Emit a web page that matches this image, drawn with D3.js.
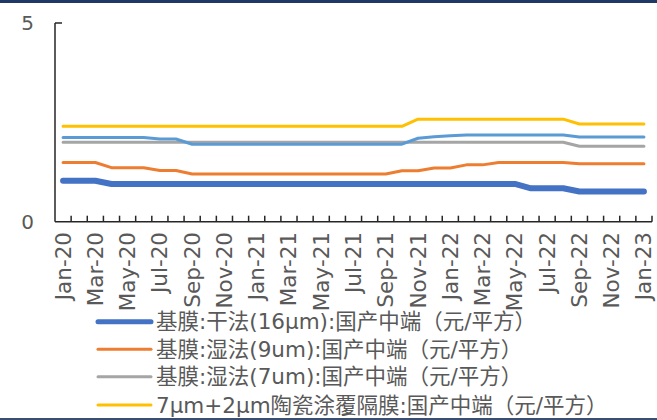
<!DOCTYPE html>
<html><head><meta charset="utf-8">
<script src="https://cdn.jsdelivr.net/npm/d3@7"></script>
<style>body{margin:0;background:#fff}svg{display:block}</style>
</head><body>
<script>
const months = ["Jan-20","Feb-20","Mar-20","Apr-20","May-20","Jun-20","Jul-20","Aug-20","Sep-20","Oct-20","Nov-20","Dec-20",
"Jan-21","Feb-21","Mar-21","Apr-21","May-21","Jun-21","Jul-21","Aug-21","Sep-21","Oct-21","Nov-21","Dec-21",
"Jan-22","Feb-22","Mar-22","Apr-22","May-22","Jun-22","Jul-22","Aug-22","Sep-22","Oct-22","Nov-22","Dec-22","Jan-23"];
const dry16 = [1.03,1.03,1.03,0.95,0.95,0.95,0.95,0.95,0.95,0.95,0.95,0.95,0.95,0.95,0.95,0.95,0.95,0.95,0.95,0.95,0.95,0.95,0.95,0.95,0.95,0.95,0.95,0.95,0.95,0.84,0.84,0.84,0.76,0.76,0.76,0.76,0.76];
const wet9 = [1.49,1.49,1.49,1.36,1.36,1.36,1.29,1.29,1.20,1.20,1.20,1.20,1.20,1.20,1.20,1.20,1.20,1.20,1.20,1.20,1.20,1.28,1.28,1.35,1.35,1.43,1.43,1.49,1.49,1.49,1.49,1.49,1.46,1.46,1.46,1.46,1.46];
const wet7 = [2.00,2.00,2.00,2.00,2.00,2.00,2.00,2.00,2.00,2.00,2.00,2.00,2.00,2.00,2.00,2.00,2.00,2.00,2.00,2.00,2.00,2.00,2.00,2.00,2.00,2.00,2.00,2.00,2.00,2.00,2.00,2.00,1.90,1.90,1.90,1.90,1.90];
const coated = [2.40,2.40,2.40,2.40,2.40,2.40,2.40,2.40,2.40,2.40,2.40,2.40,2.40,2.40,2.40,2.40,2.40,2.40,2.40,2.40,2.40,2.40,2.58,2.58,2.58,2.58,2.58,2.58,2.58,2.58,2.58,2.58,2.46,2.46,2.46,2.46,2.46];
const fifth = [2.12,2.12,2.12,2.12,2.12,2.12,2.08,2.08,1.95,1.95,1.95,1.95,1.95,1.95,1.95,1.95,1.95,1.95,1.95,1.95,1.95,1.95,2.10,2.14,2.16,2.18,2.18,2.18,2.18,2.18,2.18,2.18,2.13,2.13,2.13,2.13,2.13];
const seriesNames = ["基膜:干法(16μm):国产中端（元/平方）","基膜:湿法(9um):国产中端（元/平方）","基膜:湿法(7um):国产中端（元/平方）","7μm+2μm陶瓷涂覆隔膜:国产中端（元/平方）"];
const yTicks = [0,5];

const series = [
  {name: seriesNames[0], values: dry16, color: "#4472C4", width: 6, legend: true},
  {name: seriesNames[1], values: wet9, color: "#ED7D31", width: 3, legend: true},
  {name: seriesNames[2], values: wet7, color: "#A5A5A5", width: 3, legend: true},
  {name: seriesNames[3], values: coated, color: "#FFC000", width: 3, legend: true},
  {name: "", values: fifth, color: "#5B9BD5", width: 3, legend: false}
];

const W = 657, H = 420;
const svg = d3.select("body").append("svg").attr("width", W).attr("height", H);
const font = "'DejaVu Sans', 'Noto Sans CJK SC', sans-serif";
const textColor = "#595959";

svg.append("rect").attr("x",0).attr("y",0).attr("width",W).attr("height",3).attr("fill","#1F3864");
svg.append("rect").attr("x",0).attr("y",418).attr("width",W).attr("height",2).attr("fill","#3B4E72");

const x = d3.scaleBand().domain(months).range([55, 652]).padding(0);
const y = d3.scaleLinear().domain([0,5]).range([221.7, 23]);

// axes
svg.append("line").attr("x1",55).attr("x2",55).attr("y1",y(5)).attr("y2",y(0)).attr("stroke","#262626").attr("stroke-width",1.5);
svg.append("line").attr("x1",55).attr("x2",62).attr("y1",y(5)).attr("y2",y(5)).attr("stroke","#262626").attr("stroke-width",1.5);
svg.append("line").attr("x1",55).attr("x2",652).attr("y1",y(0)).attr("y2",y(0)).attr("stroke","#262626").attr("stroke-width",1.5);
const bounds = months.map(m => x(m)).concat([x(months[months.length-1]) + x.bandwidth()]);
svg.selectAll(".xt").data(bounds.slice(1)).enter().append("line")
  .attr("x1", d=>d).attr("x2", d=>d).attr("y1", y(0)).attr("y2", y(0)-6)
  .attr("stroke","#262626").attr("stroke-width",1.5);

svg.selectAll(".yl").data(yTicks).enter().append("text")
  .attr("x", 34).attr("y", d=>y(d)).attr("dy","0.35em").attr("text-anchor","end")
  .attr("font-family", font).attr("font-size", 20).attr("fill", textColor).text(d=>d);

svg.selectAll(".xl").data(months.filter((m,i)=>i%2===0)).enter().append("text")
  .attr("transform", d=>`translate(${x(d)+x.bandwidth()/2},232) rotate(-90)`)
  .attr("text-anchor","end").attr("dy","0.35em")
  .attr("font-family", font).attr("font-size", 21.5).attr("fill", textColor).text(d=>d);

const line = d3.line().x((d,i)=>x(months[i])+x.bandwidth()/2).y(d=>y(d)).curve(d3.curveLinear);
series.forEach(s=>{
  svg.append("path").attr("d", line(s.values)).attr("fill","none").attr("stroke", s.color)
    .attr("stroke-width", s.width).attr("stroke-linejoin","round").attr("stroke-linecap","round");
});

const legY = [321.7, 349.3, 376.7, 405];
series.filter(s=>s.legend).forEach((s,i)=>{
  svg.append("line").attr("x1",98).attr("x2",151).attr("y1",legY[i]).attr("y2",legY[i])
    .attr("stroke", s.color).attr("stroke-width", s.width===6?5:3).attr("stroke-linecap","round");
  svg.append("text").attr("x",156).attr("y",legY[i]).attr("dy","0.35em")
    .attr("font-family", font).attr("font-size", 21.5).attr("fill", textColor).text(s.name);
});
</script>
</body></html>
